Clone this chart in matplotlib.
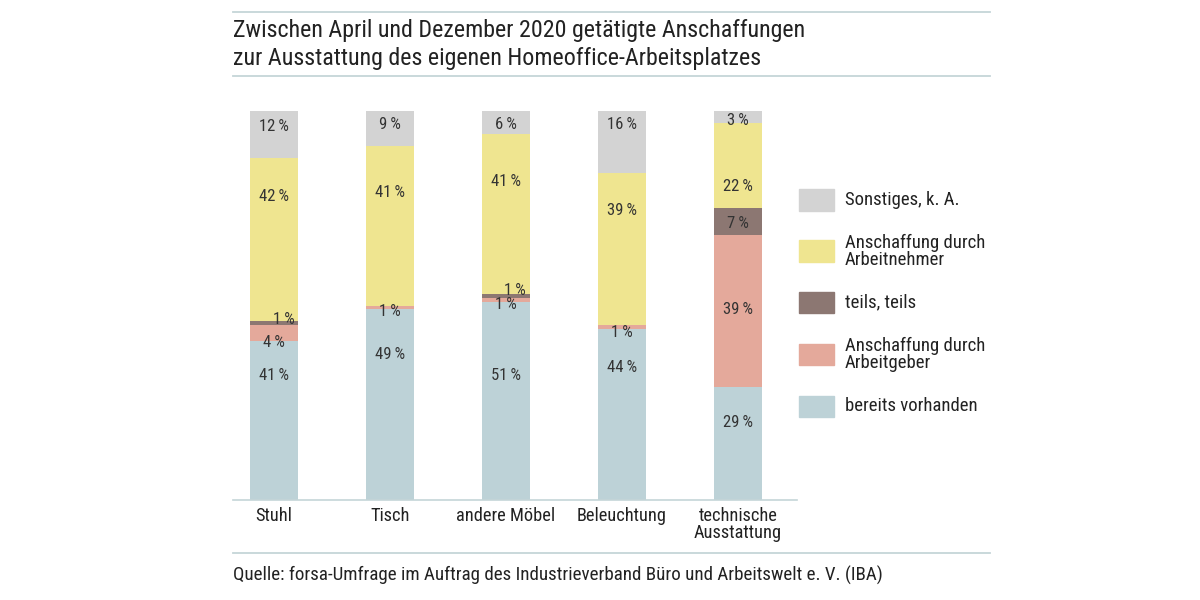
import numpy as np
import matplotlib
matplotlib.use("Agg")
import matplotlib.pyplot as plt
from matplotlib.patches import Rectangle
from matplotlib.lines import Line2D

plt.rcParams['font.family'] = ['Roboto Condensed', 'Lato', 'DejaVu Sans']

categories = ["Stuhl", "Tisch", "andere Möbel", "Beleuchtung", "technische\nAusstattung"]
series = ["bereits vorhanden", "Anschaffung durch\nArbeitgeber", "teils, teils",
          "Anschaffung durch\nArbeitnehmer", "Sonstiges, k. A."]

vorhanden = [41, 49, 51, 44, 29]
arbeitgeber = [4, 1, 1, 1, 39]
teils = [1, 0, 1, 0, 7]
arbeitnehmer = [42, 41, 41, 39, 22]
sonstiges = [12, 9, 6, 16, 3]

# where the value labels sit (in percent of bar height)
lab_vorhanden = [32, 37.5, 32, 34, 20]
lab_arbeitgeber = [40.5, 48.5, 50.3, 43, 49]
lab_teils = [46.5, None, 53.9, None, 71]
lab_arbeitnehmer = [78, 79, 82, 74.5, 80.5]
lab_sonstiges = [96, 96.5, 96.5, 96.5, 97.5]

colors = ["#bdd2d7", "#e4a99b", "#8c7772", "#efe590", "#d3d3d3"]

values = [vorhanden, arbeitgeber, teils, arbeitnehmer, sonstiges]
label_pos = [lab_vorhanden, lab_arbeitgeber, lab_teils, lab_arbeitnehmer, lab_sonstiges]

fig = plt.figure(figsize=(12, 6), dpi=100)
ax = fig.add_axes([233 / 1200, 100 / 600, 564 / 1200, 389 / 600])

x = np.arange(len(categories))
bottom = np.zeros(len(categories))
for vals, col, lpos in zip(values, colors, label_pos):
    ax.bar(x, vals, width=0.415, bottom=bottom, color=col, linewidth=0)
    for i, v in enumerate(vals):
        if v == 0 or lpos[i] is None:
            continue
        dx = 0.08 if (v == 1 and col == colors[2]) else 0
        ax.text(x[i] + dx, lpos[i], f"{v}\u2009%", ha="center", va="center",
                fontsize=12, color="#333333")
    bottom += np.array(vals)

ax.set_xlim(-0.355, 4.51)
ax.set_ylim(0, 100)
for s in ["top", "right", "left"]:
    ax.spines[s].set_visible(False)
ax.spines["bottom"].set_color("#c5d5d8")
ax.spines["bottom"].set_linewidth(1.2)
ax.set_yticks([])
ax.set_xticks(x)
ax.set_xticklabels(categories, fontsize=13.2, color="#222222", linespacing=0.95)
ax.tick_params(axis="x", length=0, pad=5)

# horizontal rules
rule = "#c5d5d8"
for yy in [12, 76, 553]:
    fig.add_artist(Line2D([233 / 1200, 990 / 1200], [1 - yy / 600, 1 - yy / 600],
                          color=rule, linewidth=1.3))

fig.text(233 / 1200, 1 - 31 / 600, "Zwischen April und Dezember 2020 getätigte Anschaffungen",
         fontsize=17.3, color="#222222", va="center")
fig.text(233 / 1200, 1 - 58 / 600, "zur Ausstattung des eigenen Homeoffice-Arbeitsplatzes",
         fontsize=17.3, color="#222222", va="center")
fig.text(233 / 1200, 1 - 575 / 600,
         "Quelle: forsa-Umfrage im Auftrag des Industrieverband Büro und Arbeitswelt e. V. (IBA)",
         fontsize=13.7, color="#222222", va="center")

# legend
leg_y = [200, 251, 302, 354, 406]
for yy, name, col in zip(leg_y, series[::-1], colors[::-1]):
    fig.add_artist(Rectangle((799 / 1200, 1 - (yy + 10.5) / 600), 35 / 1200, 21 / 600,
                             color=col, transform=fig.transFigure))
    fig.text(845 / 1200, 1 - yy / 600, name, fontsize=13.5, color="#222222",
             va="center", linespacing=0.93)

fig.savefig("out.png", dpi=100, facecolor="white")
